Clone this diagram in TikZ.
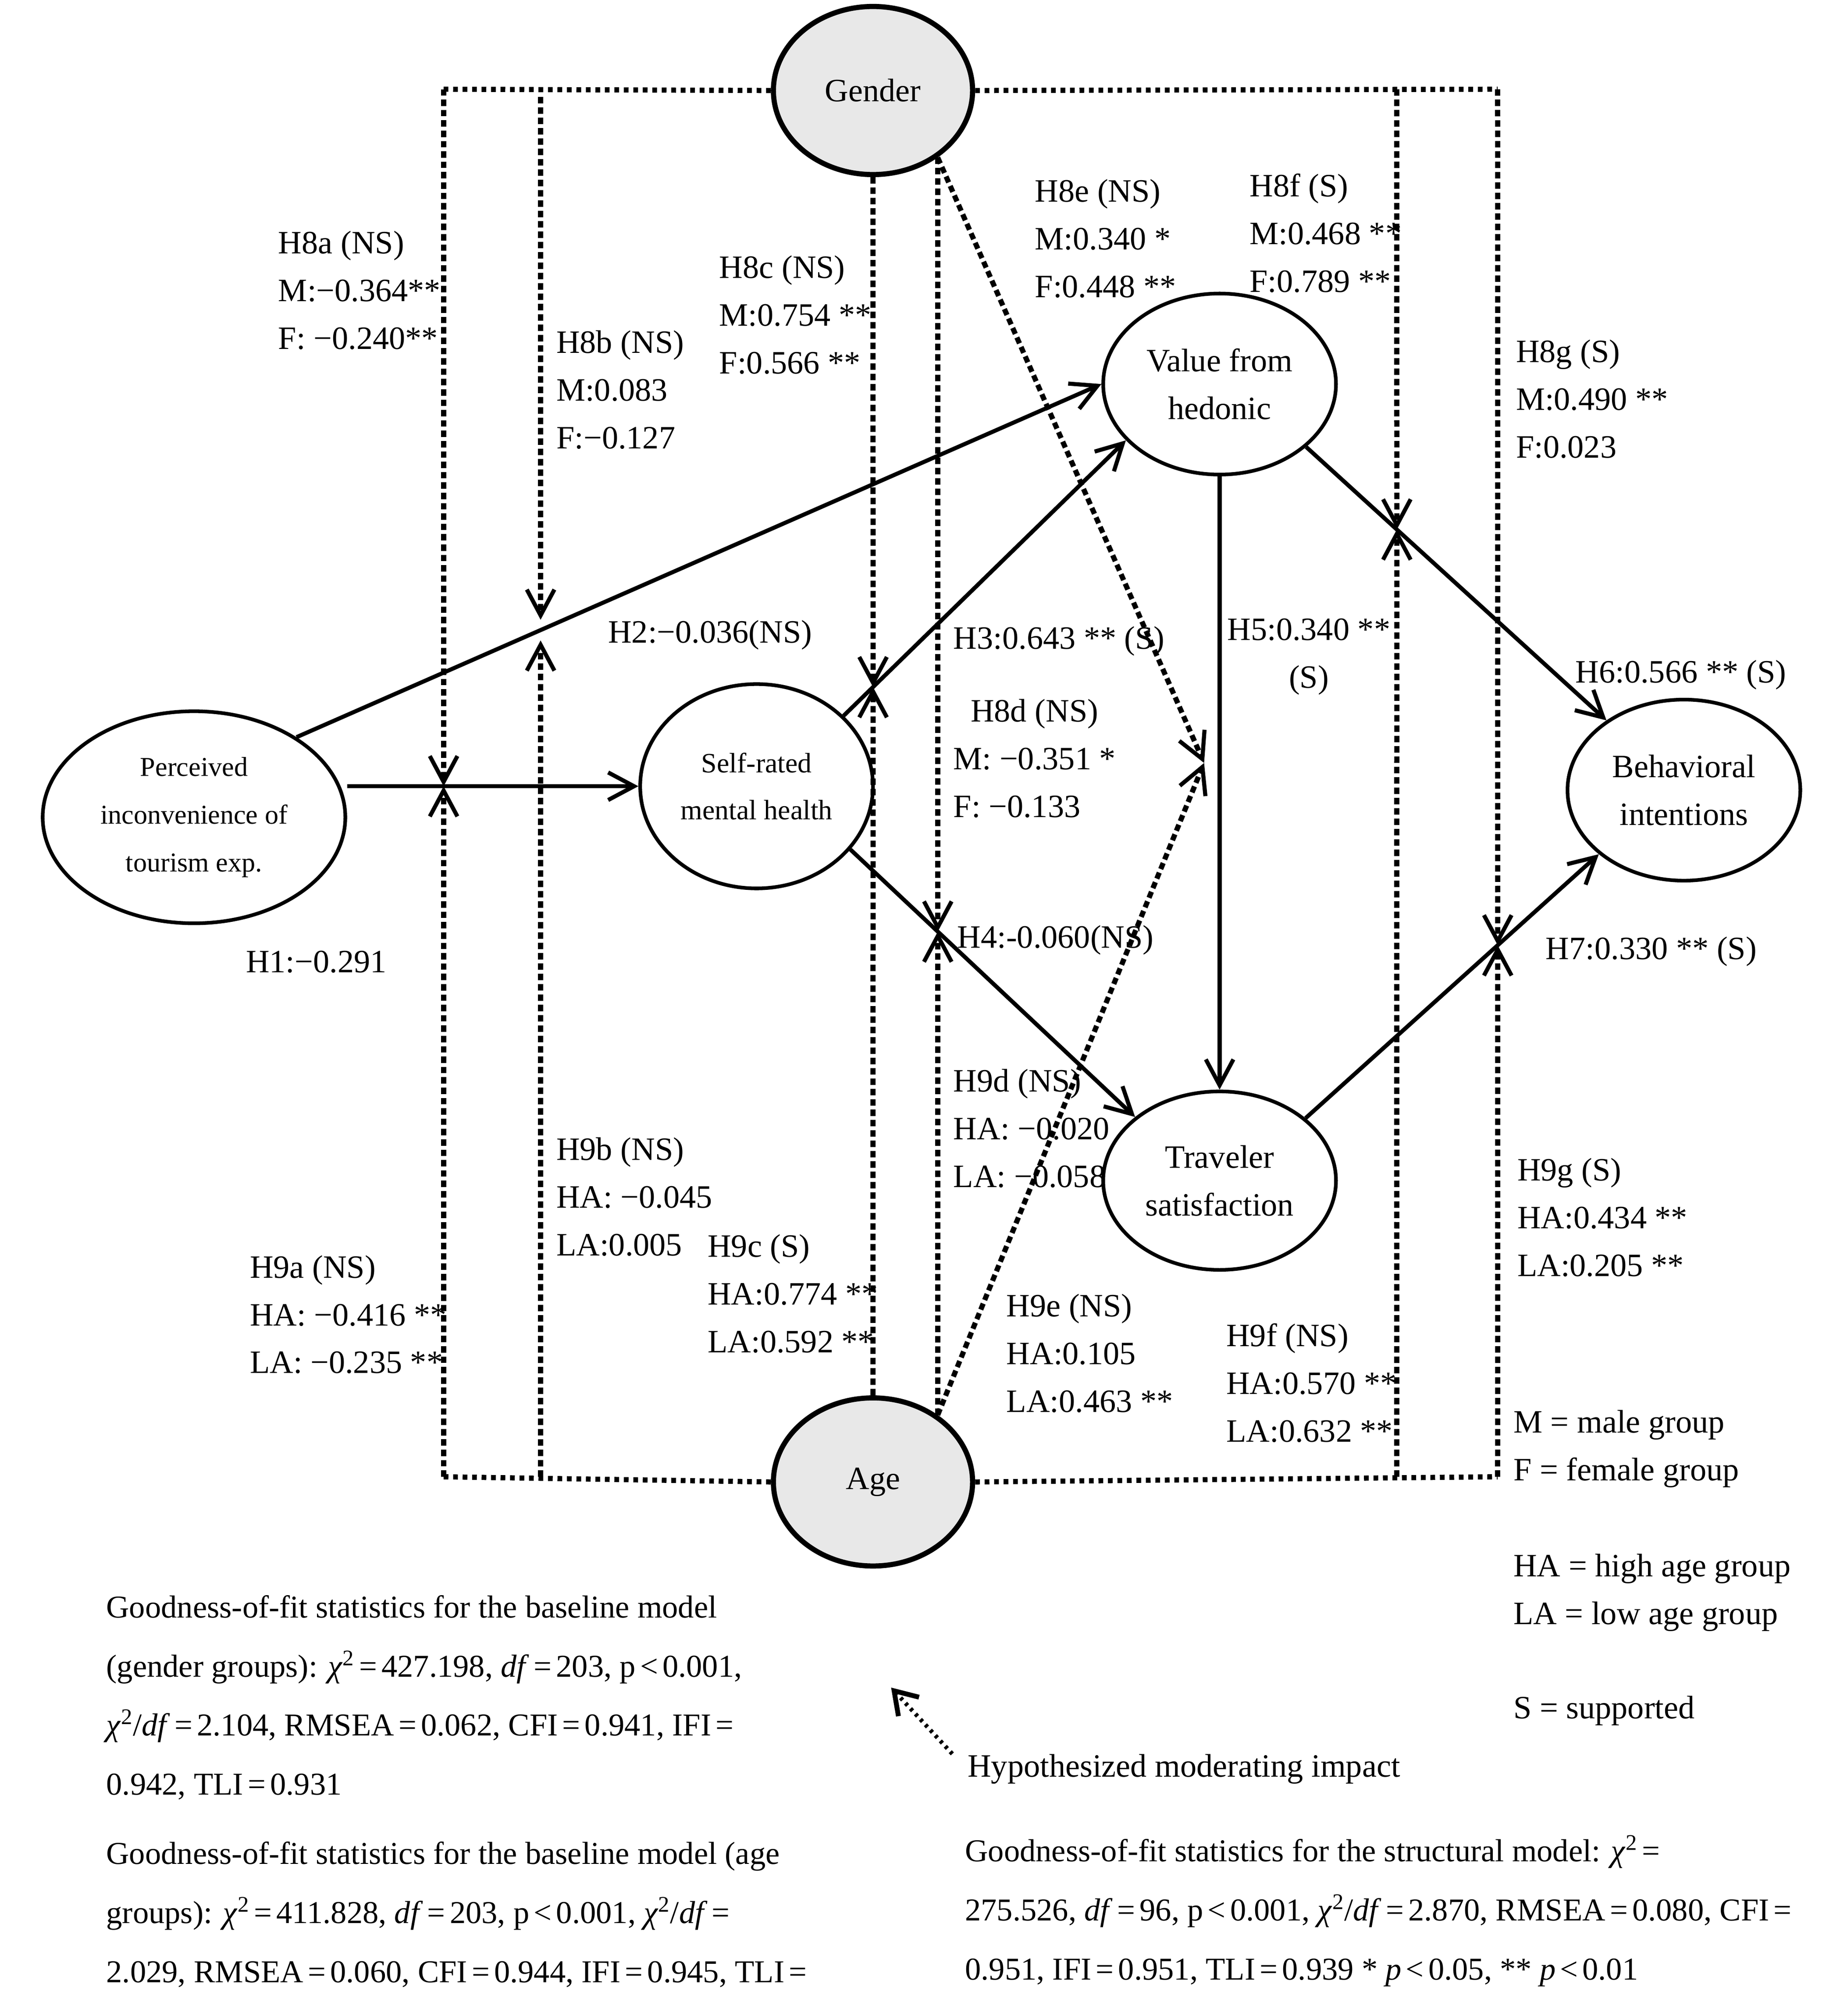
\documentclass[tikz,border=0pt]{standalone}
\usepackage{fontspec}
\setmainfont{Liberation Serif}
\usetikzlibrary{arrows.meta, shapes.geometric}
\definecolor{modgray}{HTML}{E8E8E8}
\tikzstyle{arrow} = [line width=2.7pt,-{Straight Barb[length=6mm,width=6.4mm]}]
\tikzstyle{modarrow} = [line width=3.4pt,dash pattern=on 1.5mm off 0.9mm,-{Straight Barb[length=6mm,width=6.4mm,line width=2.7pt]}]
\newcommand{\lblfont}{\fontsize{21.5}{31.5}\selectfont}
\newcommand{\fitfont}{\fontsize{21}{39}\selectfont}
\newcommand{\eqs}{\hspace{0.14em}=\hspace{0.14em}}
\newcommand{\lts}{\hspace{0.14em}<\hspace{0.14em}}
\newcommand{\chisq}{\textit{χ}\textsuperscript{2}}

\begin{document}
\begin{tikzpicture}[x=0.3mm, y=-0.3mm,
    latent/.style={ellipse, draw, line width=2.4pt, inner sep=0pt, align=center, font=\lblfont},
    moder/.style={ellipse, draw, line width=3.4pt, fill=modgray, inner sep=0pt, minimum width=46.2mm, minimum height=39mm, font=\lblfont},
    modline/.style={line width=3.4pt, dash pattern=on 1.1mm off 1.1mm},
    legarrow/.style={line width=2.8pt, dash pattern=on 0.7mm off 1mm, -{Straight Barb[length=5mm,width=6.5mm,line width=3.2pt]}},
    lbl/.style={font=\lblfont, align=left, inner sep=0pt, anchor=base west},
    fitstat/.style={font=\fitfont, align=left, inner sep=0pt, anchor=base west}
  ]
  \useasboundingbox (0,0) rectangle (1417,1559);

  % constructs
  \node[latent, minimum width=70.2mm, minimum height=49.2mm, font=\fontsize{18}{31.5}\selectfont] (per) at (150,632) {Perceived\\inconvenience of\\tourism exp.};
  \node[latent, minimum width=54mm, minimum height=47.4mm, font=\fontsize{18.5}{31}\selectfont] (self) at (585,608) {Self-rated\\mental health};
  \node[latent, minimum width=54mm, minimum height=42mm] (val) at (943,297) {Value from\\hedonic};
  \node[latent, minimum width=54mm, minimum height=41.4mm] (trav) at (943,913) {Traveler\\satisfaction};
  \node[latent, minimum width=54mm, minimum height=42mm] (beh) at (1302,611) {Behavioral\\intentions};
  \node[moder] (gen) at (675,70) {Gender};
  \node[moder] (age) at (675,1146) {Age};

  % corners of the moderating frame
  \coordinate (tl) at (343,69);
  \coordinate (bl) at (343,1142);
  \coordinate (tr) at (1158,69);
  \coordinate (br) at (1158,1142);
  \coordinate (t2) at (418,75);
  \coordinate (b2) at (418,1142);
  \coordinate (t6) at (1080,69);
  \coordinate (b6) at (1080,1142);
  \coordinate (m5) at (931,590);

  % structural paths
  \draw[arrow] (per.east |- self.west) -- (self.west);
  \draw[arrow] (per.38) -- (val.west);
  \draw[arrow] (self.39) -- (val.211);
  \draw[arrow] (self.-34) -- (trav.143);
  \draw[arrow] (val.south) -- (trav.north);
  \draw[arrow] (val.-36) -- (beh.138);
  \draw[arrow] (trav.36) -- (beh.-143);

  % moderating impacts
  \draw[modline] (gen.west) -- (tl);
  \draw[modline] (gen.east) -- (tr);
  \draw[modline] (age.west) -- (bl);
  \draw[modline] (age.east) -- (br);
  \draw[modarrow] (tl) -- (tl |- self.west);
  \draw[modarrow] (bl) -- (tl |- self.west);
  \draw[modarrow, shorten >=2.4mm] (t2) -- (intersection of per.38--val.west and t2--b2);
  \draw[modarrow, shorten >=2.4mm] (b2) -- (intersection of per.38--val.west and t2--b2);
  \draw[modarrow] (gen.south) -- (intersection of self.39--val.211 and gen.south--age.north);
  \draw[modarrow] (age.north) -- (intersection of self.39--val.211 and gen.south--age.north);
  \draw[modarrow] (gen.-46) -- (intersection of self.-34--trav.143 and gen.-46--age.46);
  \draw[modarrow] (age.46) -- (intersection of self.-34--trav.143 and gen.-46--age.46);
  \draw[modarrow] (gen.-46) -- (m5);
  \draw[modarrow] (age.46) -- (m5);
  \draw[modarrow] (t6) -- (intersection of val.-36--beh.138 and t6--b6);
  \draw[modarrow] (b6) -- (intersection of val.-36--beh.138 and t6--b6);
  \draw[modarrow] (tr) -- (intersection of trav.36--beh.-143 and tr--br);
  \draw[modarrow] (br) -- (intersection of trav.36--beh.-143 and tr--br);

  % path labels (base = last line)
  \node[lbl] (h8a) at (215,270) {H8a (NS)\\M:−0.364**\\F: −0.240**};
  \node[lbl] (h8b) at (430,347) {H8b (NS)\\M:0.083\\F:−0.127};
  \node[lbl] (h8c) at (556,289) {H8c (NS)\\M:0.754 **\\F:0.566 **};
  \node[lbl] (h8e) at (800,230) {H8e (NS)\\M:0.340 *\\F:0.448 **};
  \node[lbl] (h8f) at (966,226) {H8f (S)\\M:0.468 **\\F:0.789 **};
  \node[lbl] (h8g) at (1172,354) {H8g (S)\\M:0.490 **\\F:0.023};
  \node[lbl] (h8d) at (737,632) {\hspace*{4mm}H8d (NS)\\M: −0.351 *\\F: −0.133};
  \node[lbl] (h2) at (470,497) {H2:−0.036(NS)};
  \node[lbl] (h3) at (737,502) {H3:0.643 ** (S)};
  \node[lbl, align=center, anchor=base] (h5) at (1012,532) {H5:0.340 **\\(S)};
  \node[lbl] (h6) at (1218,528) {H6:0.566 ** (S)};
  \node[lbl] (h1) at (190,752) {H1:−0.291};
  \node[lbl] (h4) at (740,733) {H4:-0.060(NS)};
  \node[lbl] (h7) at (1195,742) {H7:0.330 ** (S)};
  \node[lbl] (h9d) at (737,918) {H9d (NS)\\HA: −0.020\\LA: −0.058};
  \node[lbl] (h9b) at (430,971) {H9b (NS)\\HA: −0.045\\LA:0.005};
  \node[lbl] (h9a) at (193,1062) {H9a (NS)\\HA: −0.416 **\\LA: −0.235 **};
  \node[lbl] (h9c) at (547,1046) {H9c (S)\\HA:0.774 **\\LA:0.592 **};
  \node[lbl] (h9e) at (778,1092) {H9e (NS)\\HA:0.105\\LA:0.463 **};
  \node[lbl] (h9f) at (948,1115) {H9f (NS)\\HA:0.570 **\\LA:0.632 **};
  \node[lbl] (h9g) at (1173,987) {H9g (S)\\HA:0.434 **\\LA:0.205 **};

  % legend
  \node[lbl] (legmf) at (1170,1145) {M = male group\\F = female group};
  \node[lbl] (legage) at (1170,1256) {HA = high age group\\LA = low age group};
  \node[lbl] (legs) at (1170,1329) {S = supported};
  \node[lbl] (hyp) at (748,1374) {Hypothesized moderating impact};
  \coordinate (legtip) at (689,1305);
  \draw[legarrow] ([xshift=-3.5mm]hyp.north west) -- (legtip);

  % fit statistics
  \node[fitstat] (fitg) at (82,1388) {Goodness-of-fit statistics for the baseline model\\(gender groups): \chisq\eqs 427.198, \textit{df}\eqs 203, p\lts 0.001,\\\chisq/\textit{df}\eqs 2.104, RMSEA\eqs 0.062, CFI\eqs 0.941, IFI\eqs\\0.942, TLI\eqs 0.931};
  \node[fitstat] (fita) at (82,1533) {Goodness-of-fit statistics for the baseline model (age\\groups): \chisq\eqs 411.828, \textit{df}\eqs 203, p\lts 0.001, \chisq/\textit{df}\eqs\\2.029, RMSEA\eqs 0.060, CFI\eqs 0.944, IFI\eqs 0.945, TLI\eqs};
  \node[fitstat] (fits) at (746,1531) {Goodness-of-fit statistics for the structural model: \chisq\eqs\\275.526, \textit{df}\eqs 96, p\lts 0.001, \chisq/\textit{df}\eqs 2.870, RMSEA\eqs 0.080, CFI\eqs\\0.951, IFI\eqs 0.951, TLI\eqs 0.939 * \textit{p}\lts 0.05, ** \textit{p}\lts 0.01};
\end{tikzpicture}
\end{document}
